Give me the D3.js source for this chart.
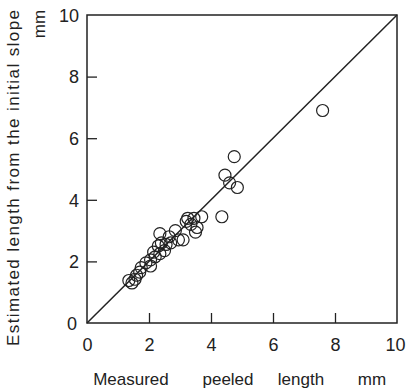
<!DOCTYPE html>
<html>
<head>
<meta charset="utf-8">
<script src="https://cdn.jsdelivr.net/npm/d3@7"></script>
<style>
  html, body { margin: 0; padding: 0; background: #fff; }
  text { font-family: "Liberation Sans", "DejaVu Sans", sans-serif; fill: #222; }
</style>
</head>
<body>
<div id="chart"></div>
<script>
// measured peeled length (mm) vs length estimated from the initial slope (mm)
var measured = [1.35, 1.45, 1.55, 1.60, 1.70, 1.75, 1.90, 2.05, 2.05, 2.20,
                2.15, 2.35, 2.30, 2.50, 2.40, 2.35, 2.55, 2.65, 2.70, 2.85,
                2.95, 3.10, 3.20, 3.25, 3.35, 3.45, 3.50, 3.55, 3.70, 4.35,
                4.45, 4.60, 4.85, 4.75, 7.60];
var estimated = [1.38, 1.30, 1.42, 1.55, 1.65, 1.80, 1.95, 1.85, 2.05, 2.15,
                 2.30, 2.25, 2.50, 2.35, 2.60, 2.90, 2.55, 2.80, 2.60, 3.00,
                 2.70, 2.70, 3.30, 3.40, 3.20, 3.40, 2.95, 3.10, 3.45, 3.45,
                 4.80, 4.55, 4.40, 5.40, 6.90];
var xTicks = [0, 2, 4, 6, 8, 10];
var yTicks = [0, 2, 4, 6, 8, 10];
var xTitleWords = ['Measured', 'peeled', 'length', 'mm'];

var W = 406, H = 389;
var m = {left: 87, right: 9, top: 15, bottom: 66};

var svg = d3.select('#chart').append('svg').attr('width', W).attr('height', H);

var x = d3.scaleLinear().domain([0, 10]).range([m.left, W - m.right]);
var y = d3.scaleLinear().domain([0, 10]).range([H - m.bottom, m.top]);

// frame
svg.append('rect')
    .attr('x', x(0)).attr('y', y(10))
    .attr('width', x(10) - x(0)).attr('height', y(0) - y(10))
    .attr('fill', 'none').attr('stroke', '#222').attr('stroke-width', 1.5);

// axes, ticks pointing inward
var xAxis = svg.append('g').attr('transform', 'translate(0,' + y(0) + ')')
    .call(d3.axisBottom(x).tickValues(xTicks).tickSizeInner(-10).tickSizeOuter(0).tickPadding(12));
var yAxis = svg.append('g').attr('transform', 'translate(' + x(0) + ',0)')
    .call(d3.axisLeft(y).tickValues(yTicks).tickSizeInner(-10).tickSizeOuter(0).tickPadding(8));
[xAxis, yAxis].forEach(function(a){
    a.select('.domain').remove();
    a.selectAll('line').attr('stroke', '#222').attr('stroke-width', 1.3);
    a.selectAll('text').attr('font-size', '18px').attr('fill', '#222')
        .style('font-family', '"Liberation Sans", "DejaVu Sans", sans-serif');
});
// hide ticks at ends
xAxis.selectAll('.tick').filter(function(d){ return d === 0 || d === 10; }).select('line').remove();
yAxis.selectAll('.tick').filter(function(d){ return d === 0 || d === 10; }).select('line').remove();
xAxis.selectAll('text').attr('dy', '0.9em');
yAxis.selectAll('text').attr('dy', '0.35em');
yAxis.selectAll('.tick').filter(function(d){ return d === 0; }).select('text').attr('dx', '-2px');
// keep the last x label inside the window
xAxis.selectAll('.tick').filter(function(d){ return d === 10; }).select('text')
    .attr('text-anchor', 'end').attr('x', W - 1 - x(10));

// 1:1 line
svg.append('line')
    .attr('x1', x(0)).attr('y1', y(0)).attr('x2', x(10)).attr('y2', y(10))
    .attr('stroke', '#222').attr('stroke-width', 1.5);

// points
var pts = measured.map(function(v, i){ return [v, estimated[i]]; });
svg.selectAll('circle.pt').data(pts).join('circle').attr('class', 'pt')
    .attr('cx', function(d){ return x(d[0]); })
    .attr('cy', function(d){ return y(d[1]); })
    .attr('r', 6)
    .attr('fill', 'none')
    .attr('stroke', '#222').attr('stroke-width', 1.2);

// x title, words spread out
var xWordPos = [131, 228, 301, 372];
svg.selectAll('text.xt').data(xTitleWords).join('text').attr('class', 'xt')
    .attr('x', function(d, i){ return xWordPos[i]; }).attr('y', 385)
    .attr('text-anchor', 'middle').attr('font-size', '17px')
    .text(function(d){ return d; });

// y title
svg.append('text')
    .attr('transform', 'translate(19,' + 178 + ') rotate(-90)')
    .attr('text-anchor', 'middle').attr('font-size', '17px')
    .attr('textLength', 336).attr('lengthAdjust', 'spacing')
    .text('Estimated length from the initial slope');
svg.append('text')
    .attr('transform', 'translate(45,' + 24 + ') rotate(-90)')
    .attr('text-anchor', 'middle').attr('font-size', '17px')
    .text('mm');
</script>
</body>
</html>
